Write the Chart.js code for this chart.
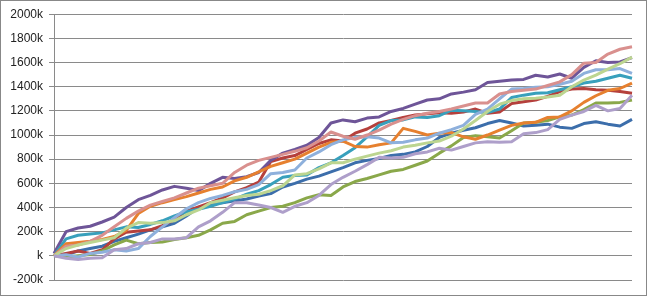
<!DOCTYPE html>
<html>
<head>
<meta charset="utf-8">
<script src="https://cdn.jsdelivr.net/npm/chart.js@4"></script>
<style>
  html, body { margin: 0; padding: 0; background: #fff; }
  #wrap { width: 647px; height: 296px; box-sizing: border-box; border: 1px solid #888; position: relative; }
  canvas { display: block; }
</style>
</head>
<body>
<div id="wrap"><canvas id="chart" width="645" height="294"></canvas></div>
<script>
// values in thousands, 49 samples per series, read left to right off the picture
const blue = [0, 10, 40, 60, 80, 120, 150, 180, 215, 240, 270, 330, 400, 430, 440, 455, 470, 495, 515, 570, 600, 635, 660, 695, 730, 770, 790, 805, 830, 840, 860, 905, 980, 1015, 1040, 1060, 1095, 1120, 1100, 1075, 1080, 1090, 1065, 1055, 1095, 1110, 1090, 1075, 1130];
const red = [0, 20, 40, 20, 50, 140, 195, 205, 215, 250, 300, 370, 405, 440, 480, 530, 565, 610, 780, 810, 830, 880, 930, 960, 950, 1015, 1050, 1100, 1120, 1145, 1165, 1175, 1185, 1180, 1190, 1215, 1180, 1190, 1260, 1275, 1290, 1320, 1360, 1380, 1385, 1375, 1370, 1360, 1345];
const green = [0, -10, 0, 10, 40, 90, 130, 100, 110, 115, 135, 150, 170, 215, 270, 285, 340, 370, 400, 410, 440, 480, 505, 500, 570, 615, 640, 670, 700, 715, 750, 785, 850, 910, 980, 995, 985, 975, 1035, 1100, 1105, 1120, 1150, 1165, 1210, 1265, 1265, 1270, 1290];
const purple = [20, 200, 230, 245, 280, 320, 400, 465, 500, 545, 575, 560, 540, 600, 650, 640, 655, 690, 790, 850, 880, 915, 980, 1100, 1125, 1110, 1140, 1150, 1195, 1220, 1255, 1290, 1300, 1340, 1355, 1375, 1435, 1445, 1455, 1460, 1495, 1480, 1505, 1470, 1560, 1615, 1600, 1605, 1640];
const teal = [0, 140, 170, 180, 190, 215, 240, 235, 260, 290, 330, 365, 385, 410, 440, 470, 510, 540, 590, 650, 665, 670, 730, 770, 830, 895, 985, 1080, 1120, 1125, 1150, 1145, 1160, 1205, 1200, 1195, 1185, 1215, 1310, 1330, 1345, 1350, 1375, 1400, 1430, 1445, 1470, 1495, 1470];
const orange = [0, 100, 110, 120, 135, 160, 210, 350, 410, 440, 465, 490, 520, 550, 570, 620, 650, 695, 740, 770, 800, 850, 900, 940, 950, 905, 900, 920, 935, 1055, 1030, 1000, 1015, 1020, 985, 965, 1000, 1040, 1080, 1100, 1105, 1145, 1150, 1200, 1270, 1325, 1370, 1385, 1430];
const lightBlue = [0, 10, -10, 20, 30, 50, 40, 60, 160, 240, 315, 390, 440, 475, 500, 530, 550, 590, 680, 690, 710, 810, 860, 920, 960, 980, 985, 975, 935, 940, 960, 975, 1015, 1045, 1080, 1170, 1215, 1300, 1380, 1385, 1395, 1400, 1420, 1445, 1510, 1540, 1540, 1550, 1510];
const pink = [0, 80, 90, 120, 170, 240, 310, 370, 420, 450, 480, 520, 560, 580, 600, 690, 750, 790, 815, 840, 865, 895, 950, 1025, 990, 965, 1000, 1040, 1090, 1130, 1160, 1180, 1195, 1215, 1240, 1265, 1265, 1340, 1360, 1370, 1380, 1410, 1440, 1500, 1595, 1600, 1670, 1710, 1730];
const lightGreen = [0, 60, 90, 110, 130, 150, 230, 275, 270, 275, 290, 340, 380, 440, 460, 480, 500, 510, 540, 580, 670, 680, 720, 770, 770, 800, 825, 850, 870, 900, 915, 935, 950, 990, 1050, 1120, 1195, 1255, 1285, 1300, 1305, 1315, 1330, 1400, 1455, 1495, 1545, 1590, 1645];
const lightPurple = [0, -20, -30, -20, -15, 50, 60, 100, 110, 140, 140, 150, 240, 290, 360, 440, 440, 420, 400, 360, 410, 440, 500, 590, 650, 700, 755, 815, 810, 815, 845, 860, 890, 875, 905, 935, 945, 940, 945, 1010, 1020, 1045, 1130, 1165, 1195, 1245, 1200, 1220, 1330];

const seriesList = [blue, red, green, purple, teal, orange, lightBlue, pink, lightGreen, lightPurple];
const seriesColors = ['#3C6EAB', '#B5403C', '#8AA84A', '#6E5598', '#38A0BC', '#E6802F', '#8EB0DC', '#D9908E', '#BCD590', '#AE9FCA'];
const labels = blue.map((_, i) => i);

const yMin = -200;
const yMax = 2000;
const yStep = 200;

new Chart(document.getElementById('chart').getContext('2d'), {
    type: 'line',
    data: {
        labels: labels,
        datasets: seriesList.map((values, i) => ({
            data: values,
            borderColor: seriesColors[i],
            borderWidth: 3,
            pointRadius: 0,
            tension: 0,
            fill: false,
            borderJoinStyle: 'round',
            order: -i
        }))
    },
    options: {
        responsive: false,
        animation: false,
        layout: {
            padding: { left: 0, top: 13, right: 14, bottom: 15 }
        },
        plugins: {
            legend: { display: false },
            tooltip: { enabled: false }
        },
        scales: {
            x: {
                display: false,
                offset: false
            },
            y: {
                min: yMin,
                max: yMax,
                afterFit: (scale) => { scale.width = 53; },
                ticks: {
                    stepSize: yStep,
                    color: '#222',
                    padding: 6,
                    font: { family: 'Liberation Sans', size: 12 },
                    callback: (v) => (v === 0 ? 'k' : v + 'k')
                },
                grid: {
                    color: '#8a8a8a',
                    lineWidth: 1,
                    tickLength: 5
                },
                border: { color: '#8a8a8a', width: 1 }
            }
        }
    }
});
</script>
</body>
</html>
